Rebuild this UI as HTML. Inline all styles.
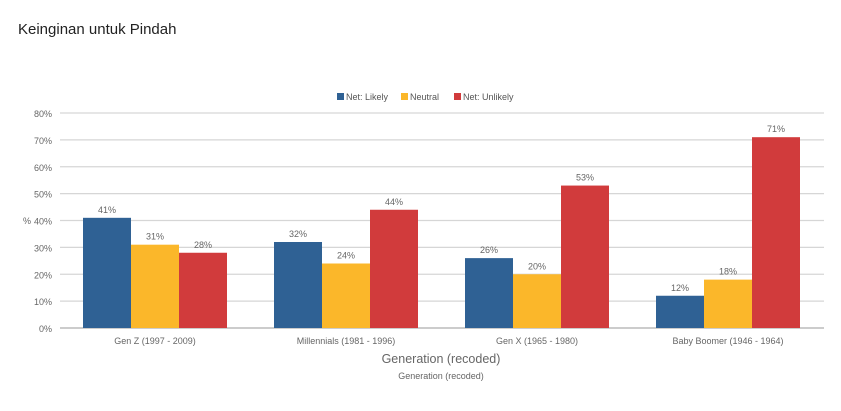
<!DOCTYPE html>
<html><head><meta charset="utf-8"><style>
body{margin:0;background:#fff;font-family:"Liberation Sans",sans-serif}
</style></head><body>
<svg width="841" height="406" xmlns="http://www.w3.org/2000/svg" id="c" font-family="Liberation Sans, sans-serif">
<text x="18" y="34" font-size="15" fill="#222">Keinginan untuk Pindah</text>
</svg>
<script>
const categories=["Gen Z (1997 - 2009)","Millennials (1981 - 1996)","Gen X (1965 - 1980)","Baby Boomer (1946 - 1964)"];
const seriesNames=["Net: Likely","Neutral","Net: Unlikely"];
const likely=[41,32,26,12];
const neutral=[31,24,20,18];
const unlikely=[28,44,53,71];
const yTicks=[0,10,20,30,40,50,60,70,80];
const colors=["#2f6194","#fbb72a","#d13b3c"];
const svg=document.getElementById('c');const NS="http://www.w3.org/2000/svg";
const L=60,R=824,T=113,B=328,maxV=80;
const y=v=>B-(v/maxV)*(B-T);
const gw=(R-L)/categories.length,bw=48,off=23;
function el(t,a,txt){const e=document.createElementNS(NS,t);for(const k in a)e.setAttribute(k,a[k]);if(txt!=null)e.textContent=txt;svg.appendChild(e);return e;}
yTicks.forEach(t=>{
 const g=el('line',{x1:L,x2:R,y1:y(t),y2:y(t),stroke:t==0?'#bbb':'#d6d6d6','stroke-width':t==0?1.5:1.2});
 
 
 const tx=el('text',{x:L-8,y:y(t)+4,'text-anchor':'end','font-size':9,fill:'#666'},t+'%');
 
 
});
const yl=el('text',{x:27,y:224,'font-size':9,fill:'#666','text-anchor':'middle'},'%');


const series=[likely,neutral,unlikely];
categories.forEach((c,i)=>{
 series.forEach((s,j)=>{
  const x=L+i*gw+off+j*bw;
  const r=el('rect',{x:x,y:y(s[i]),width:bw,height:B-y(s[i]),fill:colors[j]});
  
  
  const t=el('text',{x:x+bw/2,y:y(s[i])-5,'text-anchor':'middle','font-size':9,fill:'#666'},s[i]+'%');
  
  
 });
 const ct=el('text',{x:L+i*gw+off+1.5*bw,y:344,'text-anchor':'middle','font-size':9,fill:'#666'},c);
 
 
});
const xt=el('text',{x:441,y:363,'text-anchor':'middle','font-size':12.5,fill:'#666'},'Generation (recoded)');


const xs=el('text',{x:441,y:379,'text-anchor':'middle','font-size':9,fill:'#666'},'Generation (recoded)');


const lx=[337,401,454];
seriesNames.forEach((n,j)=>{
 const r=el('rect',{x:lx[j],y:93,width:7,height:7,fill:colors[j]});
 
 
 const t=el('text',{x:lx[j]+9,y:100,'font-size':9,fill:'#555'},n);
 
 
});
</script>
</body></html>
